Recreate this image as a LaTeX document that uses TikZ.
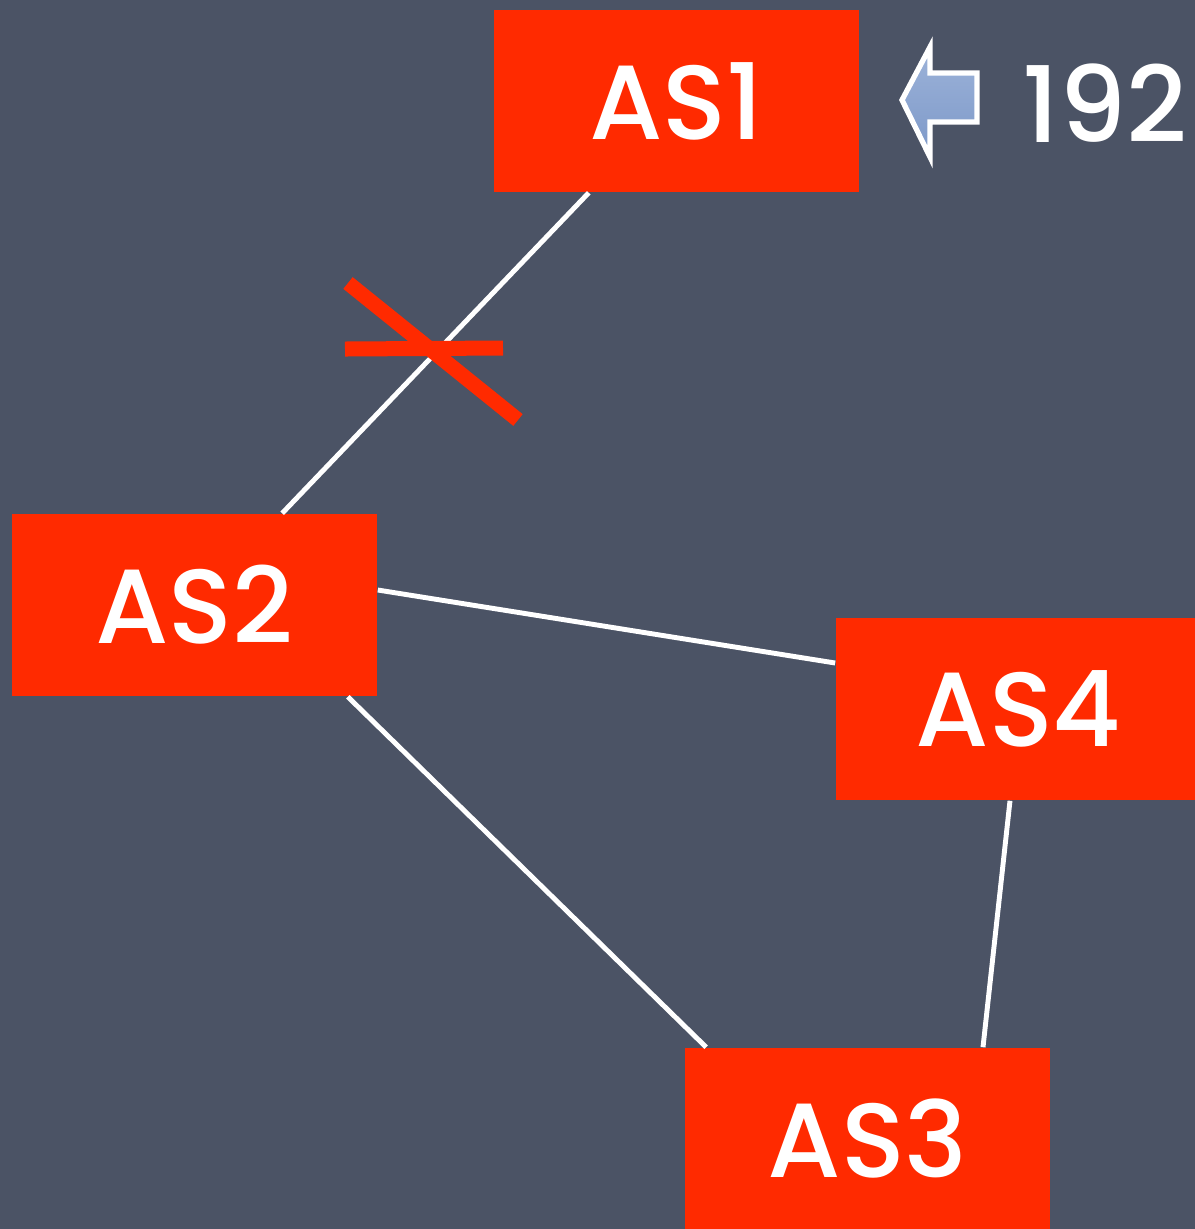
\documentclass[tikz,border=0pt]{standalone}
\usepackage{fontspec}
\setmainfont{Poppins}[UprightFont=* Medium]
\usetikzlibrary{calc}
\definecolor{slate}{HTML}{4B5365}
\definecolor{asred}{HTML}{FF2A00}
\definecolor{arrowblue}{HTML}{7C98C8}
\definecolor{arrowlight}{HTML}{9DB3D9}
\begin{document}
\begin{tikzpicture}[x=0.01cm,y=-0.01cm,
  asbox/.style={fill=asred, draw=none, minimum width=3.65cm, minimum height=1.82cm,
    inner sep=0pt, text=white, font=\fontsize{30}{36}\selectfont},
  link/.style={draw=white, line width=1.4pt},
  cut/.style={draw=asred, line width=0.15cm}]
  % canvas
  \useasboundingbox (0,0) rectangle (1195,1229);
  \clip (0,0) rectangle (1195,1229);
  \fill[slate] (0,0) rectangle (1195,1229);

  % autonomous systems
  \node[asbox] (as1) at (676.5,101) {AS1};
  \node[asbox] (as2) at (194.5,605) {AS2};
  \node[asbox] (as4) at (1018.5,709) {AS4};
  \node[asbox] (as3) at (867.5,1139) {AS3};

  % links between them
  \draw[link] (as1) -- (as2);
  \draw[link] ($(as2.east)+(0,-15)$) -- ($(as4.west)+(0,-46)$);
  \draw[link] ($(as2.south east)+(-30,0)$) -- ($(as3.north west)+(22,0)$);
  \draw[link] ($(as4.south)+(-8.5,0)$) -- ($(as3.north)+(115.5,0)$);

  % failed link marker
  \coordinate (c1) at (348,283);
  \coordinate (c2) at (518,420);
  \coordinate (c3) at (345,349);
  \coordinate (c4) at (503,348);
  \draw[cut] (c1) -- (c2);
  \draw[cut] (c3) -- (c4);

  % announcement arrow and prefix
  \draw[white, line width=1.5pt, top color=arrowlight, bottom color=arrowblue, line join=miter]
    (902,100) -- (930,47) -- (930,73) -- (977,73) -- (977,122) -- (930,122) -- (930,157) -- cycle;
  \node[anchor=west, text=white, font=\fontsize{30}{36}\selectfont, inner sep=0pt] (pfx) at (1022,103) {192};
\end{tikzpicture}
\end{document}
